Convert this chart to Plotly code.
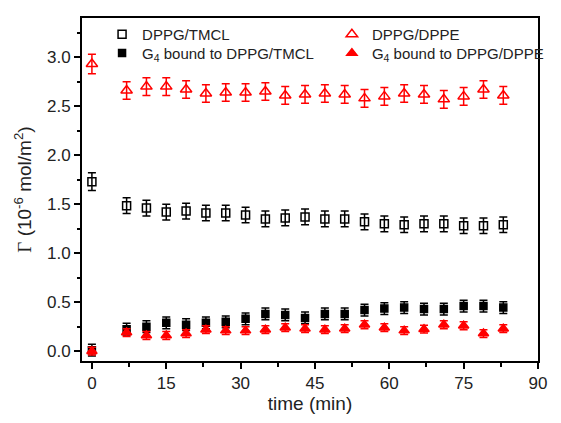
import plotly.graph_objects as go

time = [0, 7, 11, 15, 19, 23, 27, 31, 35, 39, 43, 47, 51, 55, 59, 63, 67, 71, 75, 79, 83]

tmcl = [1.73, 1.485, 1.46, 1.42, 1.43, 1.41, 1.41, 1.39, 1.35, 1.36, 1.37, 1.35, 1.35, 1.32, 1.30, 1.29, 1.30, 1.30, 1.28, 1.28, 1.29]
tmcl_err = [0.09, 0.08, 0.08, 0.08, 0.08, 0.08, 0.08, 0.08, 0.08, 0.08, 0.08, 0.08, 0.08, 0.08, 0.08, 0.08, 0.08, 0.08, 0.08, 0.08, 0.08]

dppe = [2.93, 2.66, 2.70, 2.70, 2.67, 2.63, 2.64, 2.64, 2.65, 2.61, 2.62, 2.63, 2.62, 2.58, 2.60, 2.63, 2.62, 2.57, 2.60, 2.67, 2.61]
dppe_err = [0.10, 0.09, 0.09, 0.09, 0.09, 0.09, 0.09, 0.09, 0.09, 0.09, 0.09, 0.09, 0.09, 0.09, 0.09, 0.09, 0.09, 0.09, 0.09, 0.09, 0.09]

g4_tmcl = [0.01, 0.225, 0.25, 0.29, 0.27, 0.29, 0.30, 0.33, 0.38, 0.37, 0.34, 0.38, 0.38, 0.42, 0.435, 0.445, 0.43, 0.43, 0.46, 0.46, 0.445]
g4_tmcl_err = [0.06, 0.06, 0.06, 0.06, 0.06, 0.06, 0.06, 0.06, 0.06, 0.06, 0.06, 0.06, 0.06, 0.06, 0.06, 0.06, 0.06, 0.06, 0.06, 0.06, 0.06]

g4_dppe = [0.0, 0.19, 0.16, 0.16, 0.18, 0.22, 0.21, 0.21, 0.22, 0.24, 0.23, 0.22, 0.23, 0.27, 0.24, 0.21, 0.225, 0.27, 0.26, 0.18, 0.23]
g4_dppe_err = [0.04, 0.04, 0.04, 0.04, 0.04, 0.04, 0.04, 0.04, 0.04, 0.04, 0.04, 0.04, 0.04, 0.04, 0.04, 0.04, 0.04, 0.04, 0.04, 0.04, 0.04]

labels = ["DPPG/TMCL", "DPPG/DPPE", "G<sub>4</sub> bound to DPPG/TMCL", "G<sub>4</sub> bound to DPPG/DPPE"]

fig = go.Figure()

def add(y, err, name, color, symbol, size, legend):
    fig.add_trace(go.Scatter(
        x=time, y=y, mode="markers", name=name, legend=legend, showlegend=True,
        marker=dict(symbol=symbol, size=size, color=color,
                    line=dict(color=color, width=1.5)),
        error_y=dict(type="data", array=err, visible=True, color=color,
                     thickness=1.5, width=4),
    ))

add(tmcl, tmcl_err, labels[0], "black", "square-open", 8, "legend")
add(g4_tmcl, g4_tmcl_err, labels[2], "black", "square", 7, "legend3")
add(dppe, dppe_err, labels[1], "red", "triangle-up-open", 10, "legend2")
add(g4_dppe, g4_dppe_err, labels[3], "red", "triangle-up", 9, "legend4")

axis_common = dict(
    showline=True, linecolor="black", linewidth=2, mirror=True,
    ticks="outside", tickwidth=1.5, ticklen=6, tickcolor="black",
    showgrid=False, zeroline=False,
    tickfont=dict(family="Liberation Sans, Arial", size=17, color="#222"),
)

fig.update_xaxes(
    range=[-2, 90], tickmode="array", tickvals=[0, 15, 30, 45, 60, 75, 90],
    minor=dict(ticks="outside", ticklen=3.5, tickwidth=1.5, tickcolor="black", dtick=7.5, tick0=0),
    title=dict(text="time (min)", font=dict(family="Liberation Sans, Arial", size=19, color="#222"), standoff=4),
    **axis_common,
)
fig.update_yaxes(
    range=[-0.1, 3.4], tickmode="array", tickvals=[0, 0.5, 1.0, 1.5, 2.0, 2.5, 3.0],
    ticktext=["0.0", "0.5", "1.0", "1.5", "2.0", "2.5", "3.0"],
    minor=dict(ticks="outside", ticklen=3.5, tickwidth=1.5, tickcolor="black", dtick=0.25, tick0=0),
    title=dict(text='<span style="font-family:Liberation Serif, Times New Roman">Γ</span> (10<sup>-6</sup> mol/m<sup>2</sup>)',
               font=dict(family="Liberation Sans, Arial", size=19, color="#222"), standoff=10),
    **axis_common,
)

leg_common = dict(orientation="v", yanchor="top", xanchor="left",
                  font=dict(family="Liberation Sans, Arial", size=15, color="#222"),
                  bgcolor="rgba(0,0,0,0)", itemwidth=30, tracegroupgap=0,
                  itemsizing="trace", visible=True)

row1, row2 = 1.0, 0.945
col1, col2 = 0.044, 0.548

fig.update_layout(
    width=561, height=423,
    margin=dict(l=82, r=12, t=18, b=60),
    paper_bgcolor="white", plot_bgcolor="white",
    showlegend=True,
    legend=dict(x=col1, y=row1, **leg_common),
    legend2=dict(x=col2, y=row1, **leg_common),
    legend3=dict(x=col1, y=row2, **leg_common),
    legend4=dict(x=col2, y=row2, **leg_common),
)

fig.write_html("out.html")
